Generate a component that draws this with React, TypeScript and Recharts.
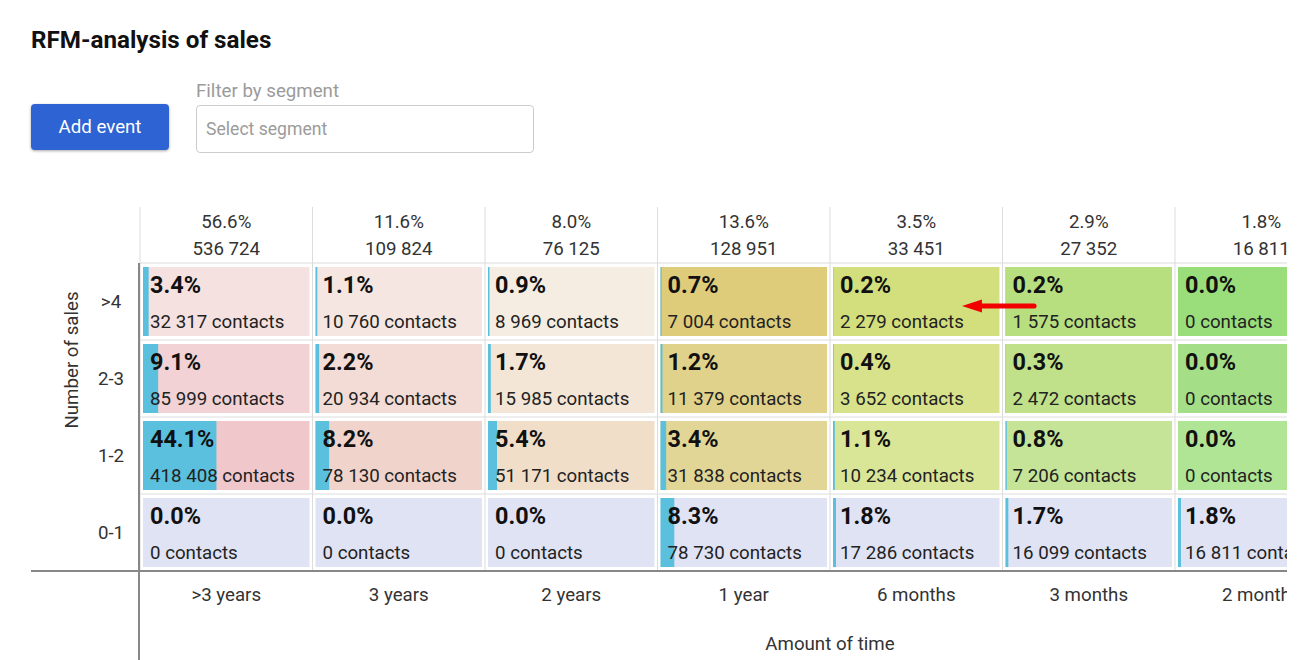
import React from 'react';
import {
  ComposedChart,
  XAxis,
  YAxis,
  Scatter,
  ReferenceArea,
  ReferenceLine,
} from 'recharts';

// ---------- data ----------
const timeLabels = ['>3 years', '3 years', '2 years', '1 year', '6 months', '3 months', '2 months'];
const salesLabels = ['0-1', '1-2', '2-3', '>4']; // bottom to top
const columnPct = [56.6, 11.6, 8.0, 13.6, 3.5, 2.9, 1.8];
const columnCount = [536724, 109824, 76125, 128951, 33451, 27352, 16811];

// rows, bottom (0-1) to top (>4)
const pct01 = [0.0, 0.0, 0.0, 8.3, 1.8, 1.7, 1.8];
const pct12 = [44.1, 8.2, 5.4, 3.4, 1.1, 0.8, 0.0];
const pct23 = [9.1, 2.2, 1.7, 1.2, 0.4, 0.3, 0.0];
const pct4 = [3.4, 1.1, 0.9, 0.7, 0.2, 0.2, 0.0];

const contacts01 = [0, 0, 0, 78730, 17286, 16099, 16811];
const contacts12 = [418408, 78130, 51171, 31838, 10234, 7206, 0];
const contacts23 = [85999, 20934, 15985, 11379, 3652, 2472, 0];
const contacts4 = [32317, 10760, 8969, 7004, 2279, 1575, 0];

const rowPct = [pct01, pct12, pct23, pct4];
const rowContacts = [contacts01, contacts12, contacts23, contacts4];

// annotation arrow (data coordinates: column units, row units)
const arrowFrom = { x: 5.183, y: 3.442 };
const arrowTo = { x: 4.765, y: 3.442 };

// ---------- styles ----------
const rowColors = [
  ['#e0e3f4', '#e0e3f4', '#e0e3f4', '#e0e3f4', '#e0e3f4', '#e0e3f4', '#e0e3f4'],
  ['#f0c7ca', '#f0d3ca', '#f0dec9', '#e2d697', '#dae697', '#c5e498', '#b0e595'],
  ['#f2d2d5', '#f3dcd5', '#f3e6d6', '#e0d28a', '#d7e28b', '#c0e08a', '#a4df88'],
  ['#f6e1e1', '#f5e6e1', '#f5ede1', '#dfcc7b', '#d3df7c', '#b7df80', '#9ade7b'],
];
const FONT = 'Roboto, "Noto Sans", sans-serif';
const BAR_BLUE = '#5bc0de';
const GRID = '#dcdcdc';
const AXIS = '#878787';

const fmt = (n: number) => String(n).replace(/\B(?=(\d{3})+(?!\d))/g, ' ');

const NCOLS = 8;
const NROWS = 4;
const colCenters = Array.from({ length: NCOLS }, (_, i) => i + 0.5);
const topTicks = Array.from({ length: NCOLS * 2 + 1 }, (_, i) => i / 2);
const rowCenters = Array.from({ length: NROWS }, (_, i) => i + 0.5);
const colBounds = Array.from({ length: NCOLS + 1 }, (_, i) => i);
const rowBounds = Array.from({ length: NROWS + 1 }, (_, i) => i);

const cells: { x: number; y: number; col: number; row: number }[] = [];
rowPct.forEach((r, ri) => r.forEach((_, ci) => cells.push({ x: ci + 0.5, y: ri + 0.5, col: ci, row: ri })));

const CellShape = (props: any) => {
  const { x, y, width, height, pct, contacts, color } = props;
  if (x == null || y == null) return null;
  const ix = x + 3;
  const iy = y + 4;
  const iw = width - 6;
  const ih = height - 8;
  return (
    <g>
      <rect x={ix} y={iy} width={iw} height={ih} fill={color} />
      {pct > 0 && <rect x={ix} y={iy} width={(iw * pct) / 100} height={ih} fill={BAR_BLUE} />}
      <text x={ix + 7} y={iy + 18} dominantBaseline="central" fontFamily={FONT} fontWeight={700} fontSize={23.4} fill="#111">
        {pct.toFixed(1)}%
      </text>
      <text x={ix + 7} y={iy + 55} dominantBaseline="central" fontFamily={FONT} fontSize={18.7} fill="#222">
        {fmt(contacts)} contacts
      </text>
    </g>
  );
};

const TopTick = (props: any) => {
  const { x, y, payload } = props;
  const v = payload.value as number;
  if (Number.isInteger(v)) {
    return <line x1={x} x2={x} y1={y} y2={y - 56} stroke={GRID} strokeWidth={1} />;
  }
  const ci = Math.floor(v);
  if (ci >= columnPct.length) return null;
  return (
    <g fontFamily={FONT} fontSize={18.7} fill="#333">
      <text x={x} y={y - 41} textAnchor="middle" dominantBaseline="central">
        {columnPct[ci].toFixed(1)}%
      </text>
      <text x={x} y={y - 14} textAnchor="middle" dominantBaseline="central">
        {fmt(columnCount[ci])}
      </text>
    </g>
  );
};

const BottomTick = (props: any) => {
  const { x, y, payload } = props;
  const ci = Math.floor(payload.value);
  if (ci >= timeLabels.length) return null;
  return (
    <text x={x} y={y + 24} textAnchor="middle" dominantBaseline="central" fontFamily={FONT} fontSize={18.7} fill="#333">
      {timeLabels[ci]}
    </text>
  );
};

const LeftTick = (props: any) => {
  const { x, y, payload } = props;
  const ri = Math.floor(payload.value);
  return (
    <text x={x - 29} y={y} textAnchor="middle" dominantBaseline="central" fontFamily={FONT} fontSize={18.7} fill="#333">
      {salesLabels[ri]}
    </text>
  );
};

const YLabel = (props: any) => {
  const vb = props.viewBox || {};
  const cx = vb.x + 72;
  const cy = vb.y + vb.height / 2 - 57;
  return (
    <g>
      <text
        x={cx}
        y={cy}
        transform={`rotate(-90 ${cx} ${cy})`}
        textAnchor="middle"
        dominantBaseline="central"
        fontFamily={FONT}
        fontSize={18.7}
        fill="#333"
      >
        Number of sales
      </text>
      <line x1={vb.x + vb.width - 1} x2={vb.x + vb.width - 1} y1={vb.y} y2={vb.y + vb.height + 89} stroke={AXIS} strokeWidth={2} />
    </g>
  );
};

const XLabel = (props: any) => {
  const vb = props.viewBox || {};
  return (
    <g>
      <line x1={31} x2={vb.x + vb.width} y1={vb.y} y2={vb.y} stroke={AXIS} strokeWidth={2} />
      <text x={vb.x + vb.width / 2} y={vb.y + 73} textAnchor="middle" dominantBaseline="central" fontFamily={FONT} fontSize={18.7} fill="#333">
        Amount of time
      </text>
    </g>
  );
};

const ArrowShape = (props: any) => {
  const { x1, y1, x2, y2 } = props;
  if (x1 == null) return null;
  const dir = x2 < x1 ? -1 : 1;
  const headLen = 20;
  const baseX = x2 - dir * headLen;
  return (
    <g>
      <line x1={x1} y1={y1} x2={baseX + dir * 2} y2={y2} stroke="#f20000" strokeWidth={5} strokeLinecap="round" />
      <polygon points={`${x2},${y2} ${baseX},${y2 - 6.5} ${baseX},${y2 + 6.5}`} fill="#f20000" />
    </g>
  );
};

export default function App() {
  return (
    <div style={{ position: 'absolute', left: 0, top: 0, width: 1287, height: 660, overflow: 'hidden', fontFamily: FONT, background: '#fff' }}>
      <div style={{ position: 'absolute', left: 31, top: 26, lineHeight: '28px', fontSize: 24.2, fontWeight: 700, color: '#111' }}>
        RFM-analysis of sales
      </div>
      <div
        style={{
          position: 'absolute',
          left: 31,
          top: 104,
          width: 138,
          height: 46,
          background: '#2d63d2',
          color: '#fff',
          borderRadius: 4,
          fontSize: 18.7,
          lineHeight: '46px',
          textAlign: 'center',
          boxShadow: '0 1px 3px rgba(0,0,0,0.35)',
        }}
      >
        Add event
      </div>
      <div style={{ position: 'absolute', left: 196, top: 79, lineHeight: '24px', fontSize: 18.7, color: '#9b9b9b' }}>Filter by segment</div>
      <div
        style={{
          position: 'absolute',
          left: 196,
          top: 105,
          width: 336,
          height: 46,
          border: '1px solid #cccccc',
          borderRadius: 4,
          boxSizing: 'content-box',
        }}
      >
        <div style={{ position: 'absolute', left: 9, top: 0, lineHeight: '46px', fontSize: 17.6, color: '#9b9b9b' }}>Select segment</div>
      </div>

      <div style={{ position: 'absolute', left: 0, top: 0 }}>
        <ComposedChart data={cells} width={1560} height={660} margin={{ top: 207, right: 40, bottom: 0, left: 0 }}>
          <XAxis
            xAxisId="top"
            orientation="top"
            type="number"
            dataKey="x"
            domain={[0, NCOLS]}
            allowDataOverflow
            ticks={topTicks}
            interval={0}
            height={56}
            axisLine={false}
            tickLine={false}
            tickSize={0}
            tickMargin={0}
            tick={<TopTick />}
          />
          <XAxis
            xAxisId="bottom"
            orientation="bottom"
            type="number"
            dataKey="x"
            domain={[0, NCOLS]}
            allowDataOverflow
            ticks={colCenters}
            interval={0}
            height={89}
            axisLine={false}
            tickLine={false}
            tickSize={0}
            tickMargin={0}
            tick={<BottomTick />}
            label={<XLabel />}
          />
          <YAxis
            type="number"
            dataKey="y"
            domain={[0, NROWS]}
            allowDataOverflow
            ticks={rowCenters}
            interval={0}
            width={140}
            axisLine={false}
            tickLine={false}
            tickSize={0}
            tickMargin={0}
            tick={<LeftTick />}
            label={<YLabel />}
          />
          {colBounds.map((b) => (
            <ReferenceLine key={'vx' + b} xAxisId="bottom" x={b} stroke={GRID} strokeWidth={1} ifOverflow="visible" />
          ))}
          {rowBounds.map((b) => (
            <ReferenceLine key={'hy' + b} xAxisId="bottom" y={b} stroke={GRID} strokeWidth={1} ifOverflow="visible" />
          ))}
          {cells.map((c) => (
            <ReferenceArea
              key={`c${c.row}-${c.col}`}
              xAxisId="bottom"
              x1={c.col}
              x2={c.col + 1}
              y1={c.row}
              y2={c.row + 1}
              ifOverflow="visible"
              shape={(p: any) => (
                <CellShape
                  {...p}
                  pct={rowPct[c.row][c.col]}
                  contacts={rowContacts[c.row][c.col]}
                  color={rowColors[c.row][c.col]}
                />
              )}
            />
          ))}
          <Scatter xAxisId="bottom" dataKey="y" fill="none" shape={() => null} isAnimationActive={false} />
          <Scatter xAxisId="top" dataKey="y" fill="none" shape={() => null} isAnimationActive={false} />
          <ReferenceLine xAxisId="bottom" ifOverflow="visible" segment={[arrowFrom, arrowTo]} shape={<ArrowShape />} />
        </ComposedChart>
      </div>
    </div>
  );
}
